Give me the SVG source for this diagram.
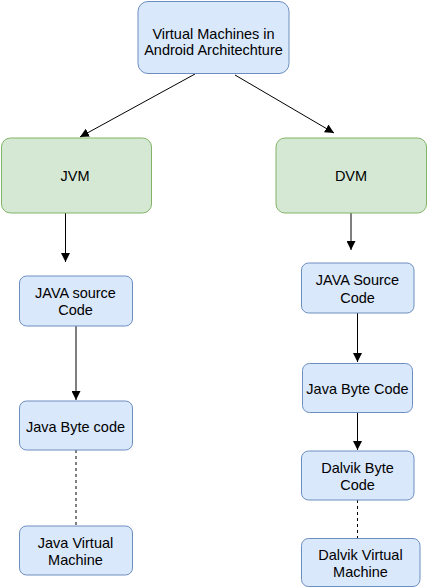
<svg xmlns="http://www.w3.org/2000/svg" width="430" height="587" viewBox="0 0 430 587">
<style>
.b{fill:#dae8fc;stroke:#6c8ebf;stroke-width:1}
.g{fill:#d5e8d4;stroke:#82b366;stroke-width:1}
text{font-family:"Liberation Sans",Arial,sans-serif;font-size:14.5px;fill:#000;text-anchor:middle}
.e{stroke:#000;stroke-width:1;fill:none}
.d{stroke:#000;stroke-width:1;fill:none;stroke-dasharray:3,3}
</style>
<defs>
<marker id="a" viewBox="0 0 10 10" refX="10" refY="5" markerWidth="9" markerHeight="9" markerUnits="userSpaceOnUse" orient="auto">
<path d="M0,0 L10,5 L0,10 Z" fill="#000"/>
</marker>
</defs>
<g id="connectors">
<path class="e" d="M195,74 L80,137" marker-end="url(#a)"/>
<path class="e" d="M235,75 L334,133" marker-end="url(#a)"/>
<path class="e" d="M65.5,213 L65.5,262" marker-end="url(#a)"/>
<path class="e" d="M76,326 L76,400" marker-end="url(#a)"/>
<path class="d" d="M76,450 L76,525"/>
<path class="e" d="M351,213 L351,250" marker-end="url(#a)"/>
<path class="e" d="M357.5,313 L357.5,362" marker-end="url(#a)"/>
<path class="e" d="M357.5,413 L357.5,450" marker-end="url(#a)"/>
<path class="d" d="M357.5,500 L357.5,538" stroke="#555"/>
</g>
<g id="root">
<rect class="b" x="138" y="1.5" width="151" height="72" rx="10"/>
<text x="213.5" y="38.5">Virtual Machines in</text>
<text x="213.5" y="54.5">Android Architechture</text>
</g>
<g id="jvm">
<rect class="g" x="1.5" y="138" width="150" height="75" rx="9"/>
<text x="75" y="181">JVM</text>
</g>
<g id="dvm">
<rect class="g" x="276" y="138" width="150.5" height="75" rx="9"/>
<text x="351" y="181">DVM</text>
</g>
<g id="jsrc">
<rect class="b" x="19.5" y="276" width="113" height="50" rx="7"/>
<text x="75.5" y="297.5">JAVA source</text>
<text x="75.5" y="314.5">Code</text>
</g>
<g id="jbyte">
<rect class="b" x="19.5" y="401" width="113" height="49" rx="7"/>
<text x="75.5" y="431.5">Java Byte code</text>
</g>
<g id="jvmach">
<rect class="b" x="19.5" y="526" width="113" height="49" rx="7"/>
<text x="75.5" y="548">Java Virtual</text>
<text x="75.5" y="565">Machine</text>
</g>
<g id="dsrc">
<rect class="b" x="301.5" y="263" width="112.5" height="50" rx="7"/>
<text x="357.5" y="285">JAVA Source</text>
<text x="357.5" y="302.5">Code</text>
</g>
<g id="dbyte">
<rect class="b" x="302.5" y="363.5" width="110" height="49" rx="7"/>
<text x="357.5" y="394">Java Byte Code</text>
</g>
<g id="dalbyte">
<rect class="b" x="301.5" y="451" width="112.5" height="49" rx="7"/>
<text x="357.5" y="473">Dalvik Byte</text>
<text x="357.5" y="490">Code</text>
</g>
<g id="dvmach">
<rect class="b" x="301.5" y="538.5" width="118.5" height="48" rx="7"/>
<text x="360.5" y="560">Dalvik Virtual</text>
<text x="360.5" y="577">Machine</text>
</g>
</svg>
